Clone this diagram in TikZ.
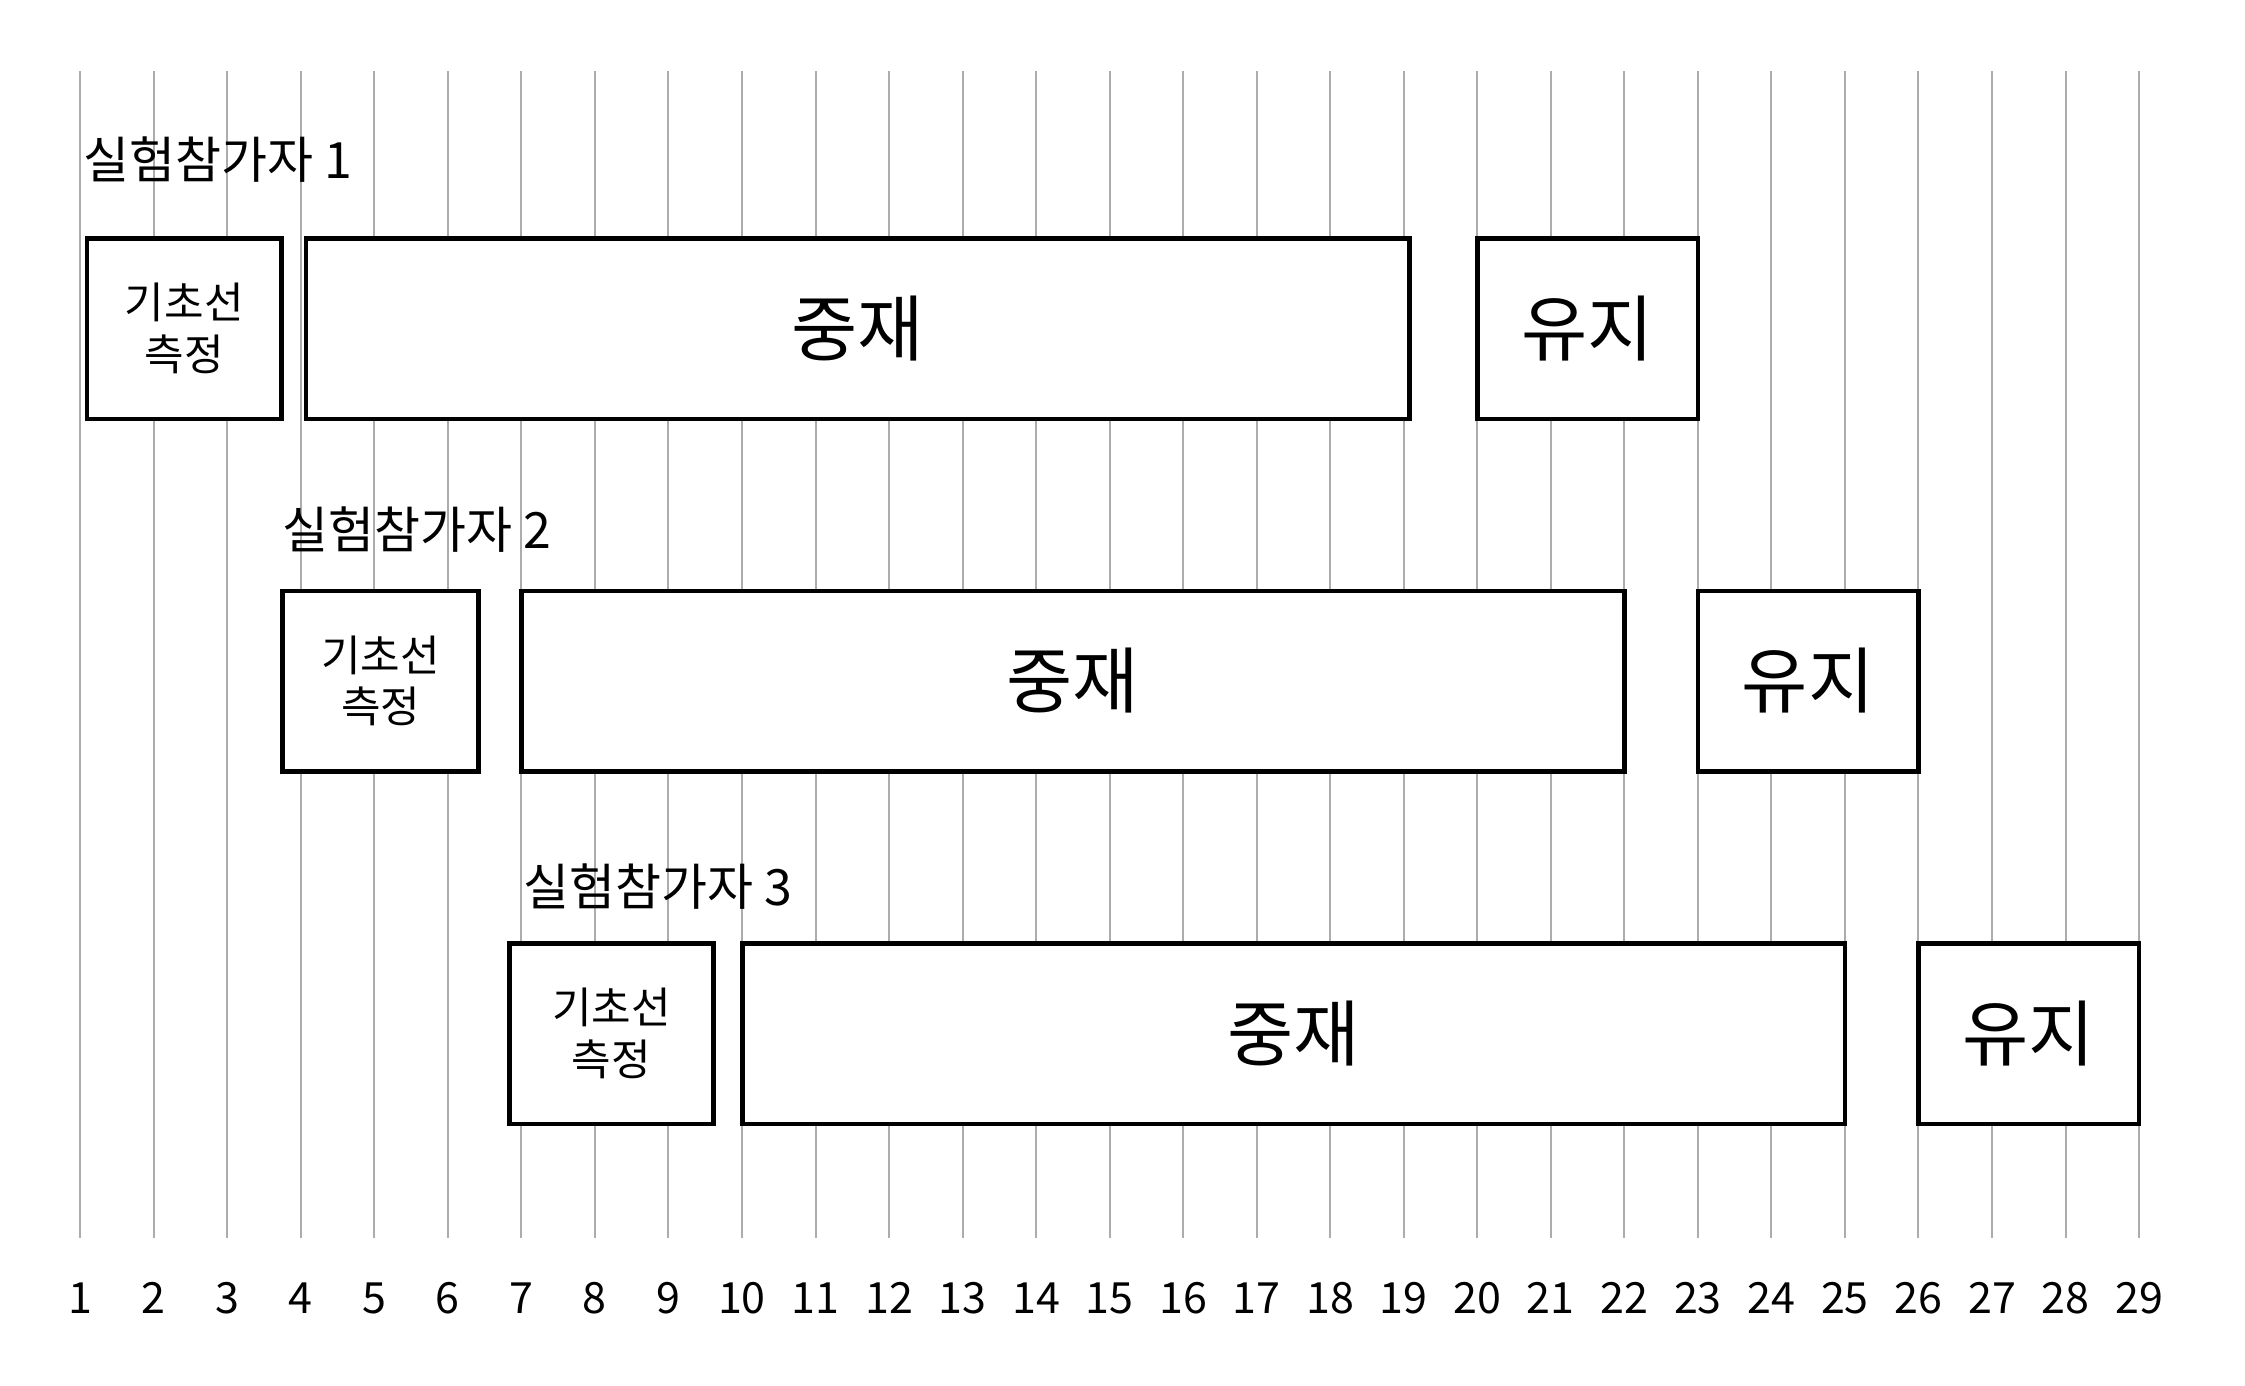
\documentclass[tikz,border=0pt]{standalone}
\usepackage{fontspec}
\setmainfont{Noto Sans CJK KR}

\begin{document}
\begin{tikzpicture}[x=73.53pt, y=-1pt]
          \tikzstyle{phase}=[draw, line width=4.5pt, fill=white, inner sep=0pt, minimum height=180.5pt, align=center]
          \tikzstyle{small}=[font=\fontsize{43}{51.7}\selectfont]
          \tikzstyle{big}=[font=\fontsize{72}{80}\selectfont]
          \tikzstyle{subject}=[anchor=base west, inner sep=0pt, font=\fontsize{50}{60}\selectfont]
          \tikzstyle{session}=[anchor=base, inner sep=0pt, font=\fontsize{43}{50}\selectfont]
          \tikzstyle{grid}=[draw=gray!65, line width=2pt]

          \useasboundingbox (-0.0907, 0) rectangle (30.4407, 1385);

          \foreach \n in {1,...,29} {
            \draw[grid] (\n, 71) -- (\n, 1237.7);
            \node (T\n) at (\n, 1313.3) [session] {\n};
          }

          \node (P1) at (1.038, 178.3) [subject] {실험참가자 1};
          \node (B1) at (2.415, 328.5) [phase, small, minimum width=194.9pt] {기초선\\측정};
          \node (I1) at (11.575, 328.5) [phase, big, minimum width=1103.7pt] {중재};
          \node (M1) at (21.5, 328.5) [phase, big, minimum width=220.6pt] {유지};

          \node (P2) at (3.744, 548.3) [subject] {실험참가자 2};
          \node (B2) at (5.085, 681) [phase, small, minimum width=196.3pt] {기초선\\측정};
          \node (I2) at (14.5, 681) [phase, big, minimum width=1103pt] {중재};
          \node (M2) at (24.5, 681) [phase, big, minimum width=220.6pt] {유지};

          \node (P3) at (7.029, 905) [subject] {실험참가자 3};
          \node (B3) at (8.225, 1033.5) [phase, small, minimum width=203.7pt] {기초선\\측정};
          \node (I3) at (17.505, 1033.5) [phase, big, minimum width=1102.2pt] {중재};
          \node (M3) at (27.5, 1033.5) [phase, big, minimum width=220.6pt] {유지};
        \end{tikzpicture}
\end{document}
